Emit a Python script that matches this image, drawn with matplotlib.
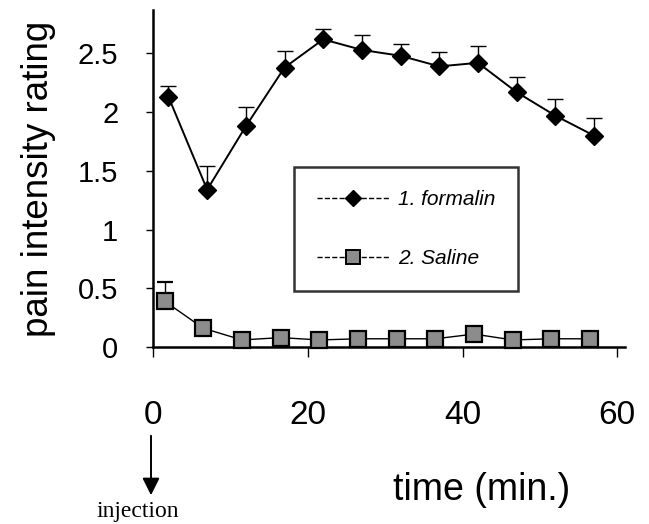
import matplotlib
matplotlib.use("Agg")
import matplotlib.pyplot as plt
import numpy as np
from matplotlib.lines import Line2D
from matplotlib.patches import FancyArrowPatch

# data
time_formalin = [2, 7, 12, 17, 22, 27, 32, 37, 42, 47, 52, 57]
formalin = [2.13, 1.34, 1.88, 2.38, 2.62, 2.53, 2.48, 2.39, 2.42, 2.17, 1.97, 1.80]
formalin_err = [0.09, 0.20, 0.16, 0.14, 0.09, 0.13, 0.10, 0.12, 0.14, 0.13, 0.14, 0.15]

time_saline = [1.5, 6.5, 11.5, 16.5, 21.5, 26.5, 31.5, 36.5, 41.5, 46.5, 51.5, 56.5]
saline = [0.39, 0.16, 0.06, 0.08, 0.06, 0.07, 0.07, 0.07, 0.11, 0.06, 0.07, 0.07]
saline_err = [0.16, 0.02, 0.01, 0.01, 0.01, 0.01, 0.01, 0.01, 0.01, 0.01, 0.01, 0.01]

yticks = [0, 0.5, 1, 1.5, 2, 2.5]
ytick_labels = ["0", "0.5", "1", "1.5", "2", "2.5"]
xticks = [0, 20, 40, 60]

FONT = "Liberation Sans"
W, H = 649, 524

fig = plt.figure(figsize=(6.49, 5.24), dpi=100)
ax = fig.add_axes([153 / W, 1 - 347 / H, 472 / W, 337 / H])
ax.set_xlim(0, 61)
ax.set_ylim(0, 2.87)

ax.errorbar(time_formalin, formalin, yerr=[np.zeros(len(formalin_err)), formalin_err],
            fmt="-", color="black", lw=1.4, marker="D", ms=9,
            mfc="black", mec="black", ecolor="black", elinewidth=1.0,
            capsize=6, capthick=1.0, zorder=3, clip_on=False)
ax.errorbar(time_saline, saline, yerr=[np.zeros(len(saline_err)), saline_err],
            fmt="-", color="black", lw=1.0, marker="s", ms=11,
            mfc="#8c8c8c", mec="black", mew=1.6, ecolor="black", elinewidth=1.0,
            capsize=6, capthick=1.0, zorder=3, clip_on=False)

for side in ["top", "right"]:
    ax.spines[side].set_visible(False)
for side in ["left", "bottom"]:
    ax.spines[side].set_linewidth(1.8)

ax.set_yticks(yticks)
ax.set_yticklabels(ytick_labels, fontsize=21, family=FONT)
ax.set_xticks(xticks)
ax.set_xticklabels([str(t) for t in xticks], fontsize=24, family=FONT)
ax.tick_params(axis="y", direction="out", length=5, width=1.0, pad=20)
ax.tick_params(axis="x", direction="out", length=7, width=1.0, pad=31)

ax.set_ylabel("pain intensity rating", fontsize=26.5, family=FONT, labelpad=16)

fig.text(482 / W, 1 - 490 / H, "time (min.)", fontsize=27, family=FONT,
         ha="center", va="center")

# injection marker
fig.add_artist(FancyArrowPatch(
    (151 / W, 1 - 433 / H), (151 / W, 1 - 498 / H),
    transform=fig.transFigure, arrowstyle="-|>", mutation_scale=26,
    color="black", lw=1.4))
fig.text(138 / W, 1 - 512 / H, "injection", fontsize=17,
         family="Liberation Serif", ha="center", va="center")

# legend
handles = [
    Line2D([], [], color="black", lw=1.0, ls="--", marker="D", ms=8,
           mfc="black", mec="black"),
    Line2D([], [], color="black", lw=1.0, ls="--", marker="s", ms=10,
           mfc="#8c8c8c", mec="black", mew=1.4),
]
leg = ax.legend(handles, ["1. formalin", "2. Saline"],
                loc="upper left", bbox_to_anchor=(18.2, 1.53),
                bbox_transform=ax.transData, borderaxespad=0,
                frameon=True, fancybox=False,
                borderpad=1.1, labelspacing=1.9, handlelength=3.5,
                handletextpad=0.4,
                prop={"family": FONT, "style": "italic", "size": 15})
leg.get_frame().set_edgecolor("black")
leg.get_frame().set_linewidth(1.8)

fig.savefig("out.png", dpi=100, facecolor="white")
